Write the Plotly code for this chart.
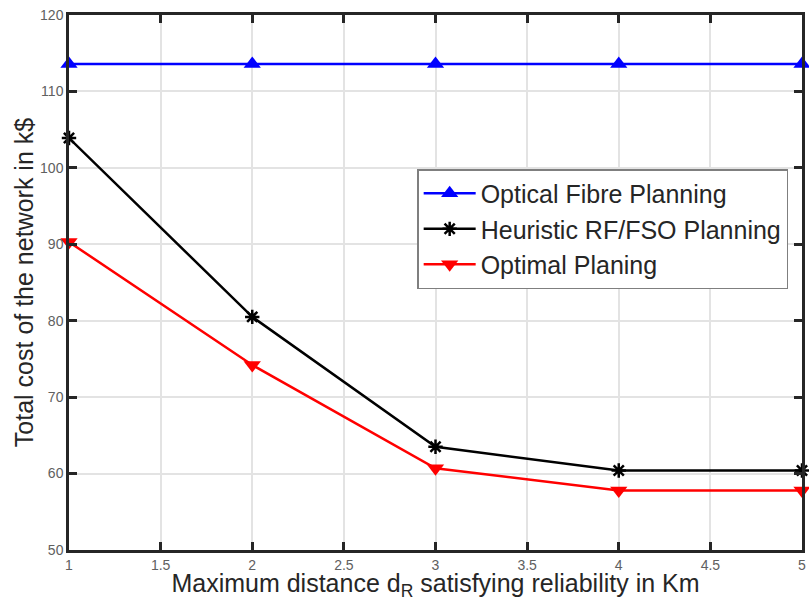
import plotly.graph_objects as go

x_km = [1, 2, 3, 4, 5]
fibre = [113.6, 113.6, 113.6, 113.6, 113.6]
heuristic = [103.9, 80.5, 63.5, 60.4, 60.4]
optimal = [90.3, 74.2, 60.7, 57.8, 57.8]

x_ticks = [1, 1.5, 2, 2.5, 3, 3.5, 4, 4.5, 5]
x_ticktext = ["1", "1.5", "2", "2.5", "3", "3.5", "4", "4.5", "5"]
y_ticks = [50, 60, 70, 80, 90, 100, 110, 120]

fig = go.Figure()
fig.add_trace(go.Scatter(x=x_km, y=fibre, mode="lines+markers", name="Optical Fibre Planning",
                         line=dict(color="#0000ff", width=2.5), cliponaxis=False,
                         marker=dict(symbol="triangle-up", size=15, color="#0000ff")))
fig.add_trace(go.Scatter(x=x_km, y=heuristic, mode="lines+markers", name="Heuristic RF/FSO Planning",
                         line=dict(color="#000000", width=2.5), cliponaxis=False,
                         marker=dict(symbol="asterisk-open", size=12, color="#000000",
                                     line=dict(color="#000000", width=2.5))))
fig.add_trace(go.Scatter(x=x_km, y=optimal, mode="lines+markers", name="Optimal Planing",
                         line=dict(color="#ff0000", width=2.5), cliponaxis=False,
                         marker=dict(symbol="triangle-down", size=15, color="#ff0000")))

axis_common = dict(showline=True, linecolor="#262626", linewidth=2.5, mirror="ticks",
                   ticks="inside", ticklen=8, tickwidth=2.5, tickcolor="#262626",
                   showgrid=True, gridcolor="#e3e3e3", gridwidth=2, zeroline=False,
                   automargin=False,
                   tickfont=dict(family="Arial", size=14, color="#606060"))

fig.update_layout(
    width=809, height=601,
    margin=dict(l=69, r=7, t=15, b=51),
    paper_bgcolor="white", plot_bgcolor="white",
    font=dict(family="Arial", color="#262626"),
    xaxis=dict(range=[1, 5], tickvals=x_ticks, ticktext=x_ticktext,
               title=dict(text="Maximum distance d<sub>R</sub> satisfying reliability in Km",
                          font=dict(family="Arial", size=25, color="#262626"), standoff=0),
               **axis_common),
    yaxis=dict(range=[50, 120], tickvals=y_ticks,
               title=dict(text="Total cost of the network in k$",
                          font=dict(family="Arial", size=25, color="#262626"), standoff=0),
               **axis_common),
    legend=dict(x=0.475, y=0.712, xanchor="left", yanchor="top",
                bgcolor="white", bordercolor="#7f7f7f", borderwidth=1.5,
                font=dict(family="Arial", size=25, color="#262626"),
                itemwidth=52, tracegroupgap=0),
    showlegend=True,
)

fig.write_html("out.html")
